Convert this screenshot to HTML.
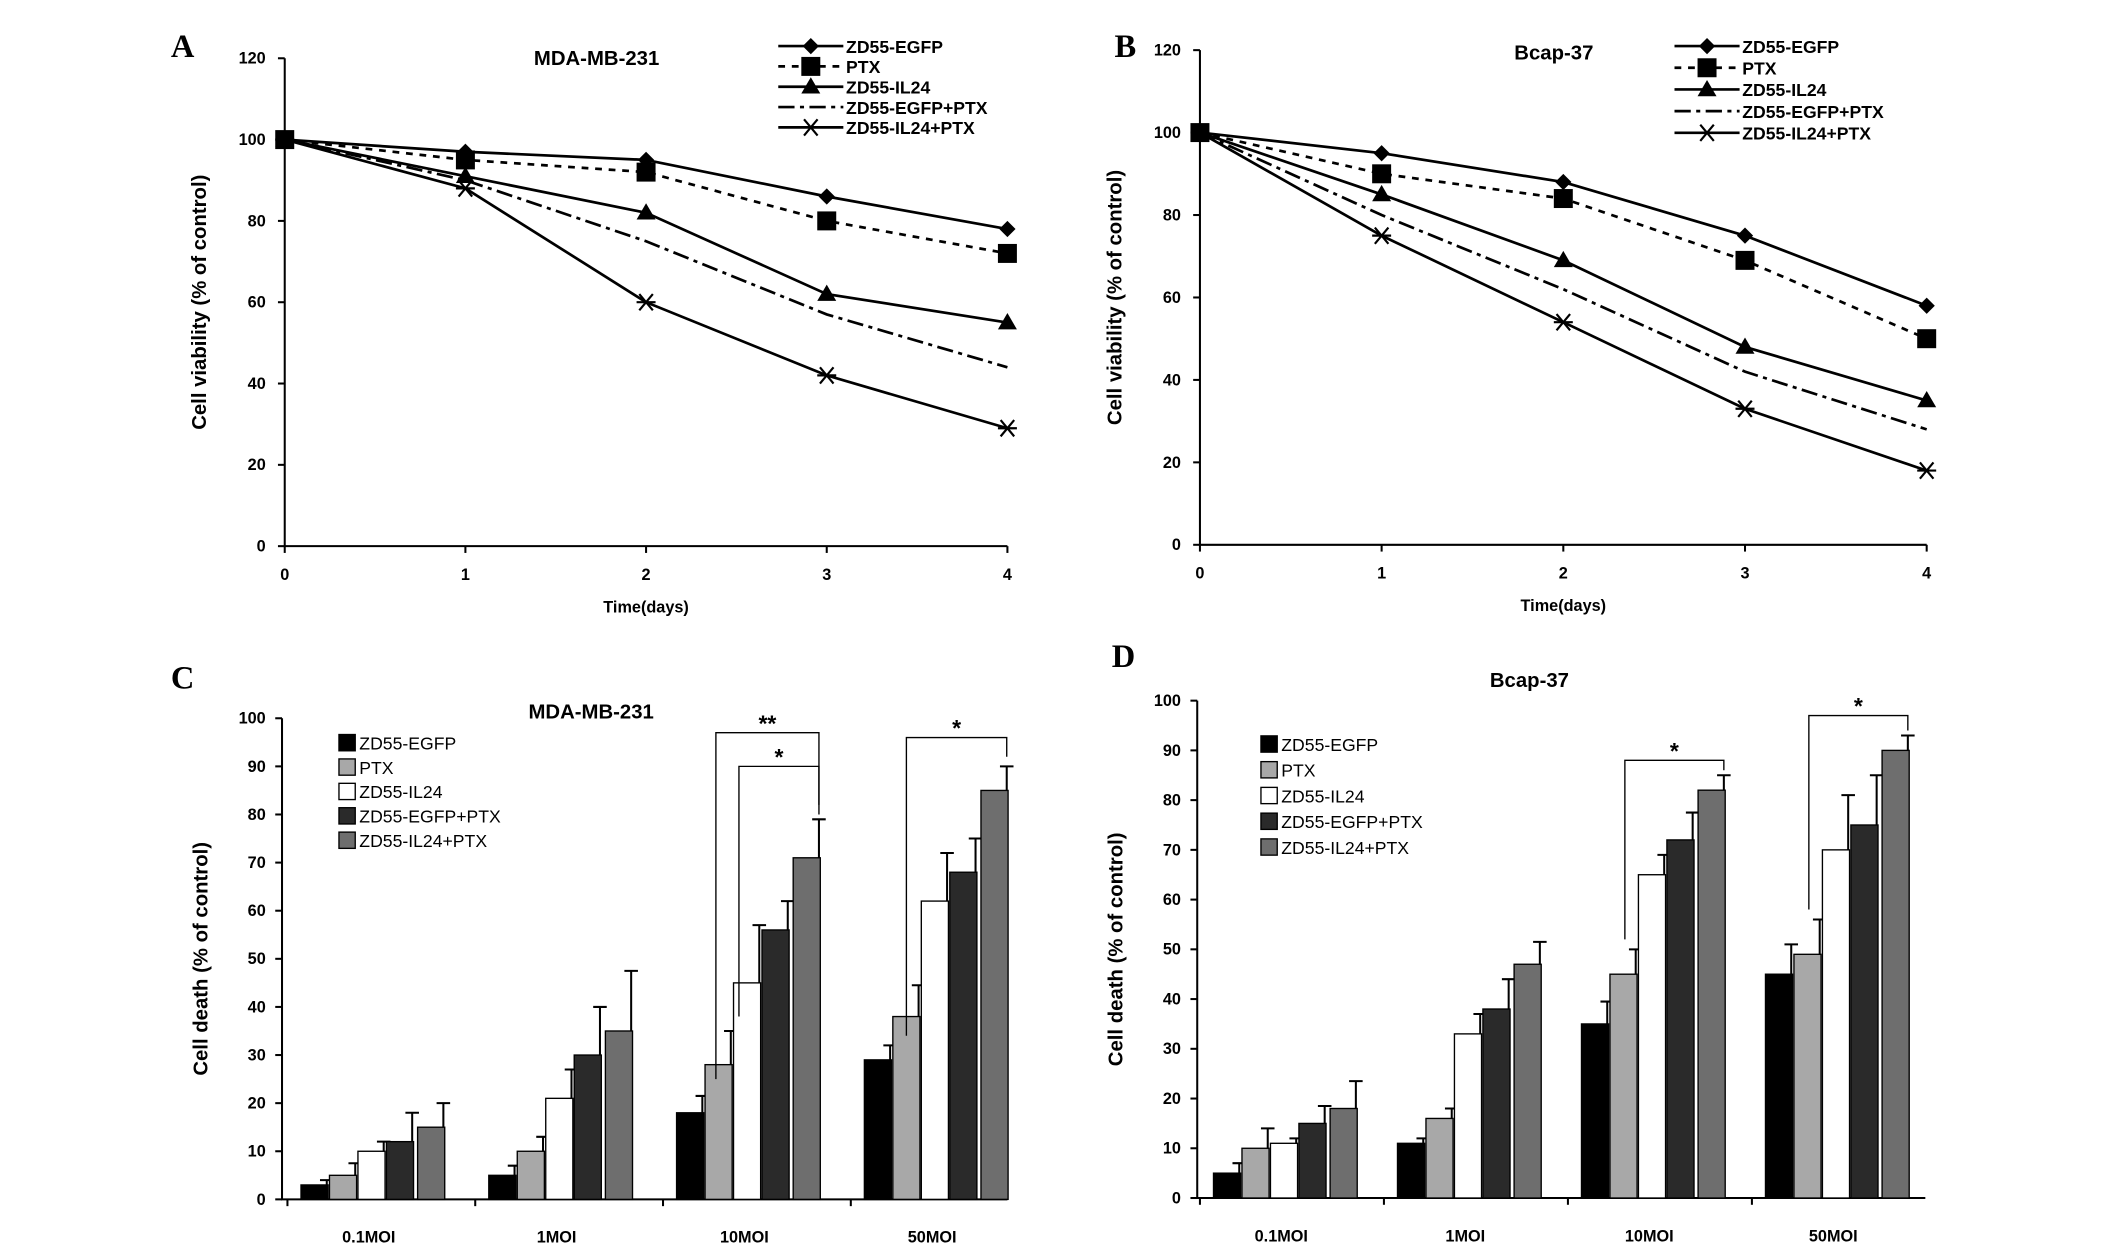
<!DOCTYPE html>
<html><head><meta charset="utf-8">
<style>
html,body{margin:0;padding:0;background:#fff;}
svg{display:block;font-family:"Liberation Sans",Arial,sans-serif;font-weight:bold;}
</style></head>
<body>
<svg id="fig" width="2126" height="1259" viewBox="0 0 1568 929" preserveAspectRatio="none" xmlns="http://www.w3.org/2000/svg">
<rect width="1568" height="929" fill="#fff"/>
</svg>
<script>
// ---- line chart data ----
const lineDays = [0,1,2,3,4];
const lineSeriesNames = ["ZD55-EGFP","PTX","ZD55-IL24","ZD55-EGFP+PTX","ZD55-IL24+PTX"];
const lineYTicks = [0,20,40,60,80,100,120];
const mdaEGFP = [100,97,95,86,78];
const mdaPTX = [100,95,92,80,72];
const mdaIL24 = [100,91,82,62,55];
const mdaEGFPPTX = [100,90,75,57,44];
const mdaIL24PTX = [100,88,60,42,29];
const bcapEGFP = [100,95,88,75,58];
const bcapPTX = [100,90,84,69,50];
const bcapIL24 = [100,85,69,48,35];
const bcapEGFPPTX = [100,80,62,42,28];
const bcapIL24PTX = [100,75,54,33,18];
// ---- bar chart data ----
const barCategories = ["0.1MOI","1MOI","10MOI","50MOI"];
const barYTicks = [0,10,20,30,40,50,60,70,80,90,100];
const mdaBarEGFP = [3,5,18,29];
const mdaBarPTX = [5,10,28,38];
const mdaBarIL24 = [10,21,45,62];
const mdaBarEGFPPTX = [12,30,56,68];
const mdaBarIL24PTX = [15,35,71,85];
const mdaErrEGFP = [1,2,3.5,3];
const mdaErrPTX = [2.5,3,7,6.5];
const mdaErrIL24 = [2,6,12,10];
const mdaErrEGFPPTX = [6,10,6,7];
const mdaErrIL24PTX = [5,12.5,8,5];
const bcapBarEGFP = [5,11,35,45];
const bcapBarPTX = [10,16,45,49];
const bcapBarIL24 = [11,33,65,70];
const bcapBarEGFPPTX = [15,38,72,75];
const bcapBarIL24PTX = [18,47,82,90];
const bcapErrEGFP = [2,1,4.5,6];
const bcapErrPTX = [4,2,5,7];
const bcapErrIL24 = [1,4,4,11];
const bcapErrEGFPPTX = [3.5,6,5.5,10];
const bcapErrIL24PTX = [5.5,4.5,3,3];

const NS="http://www.w3.org/2000/svg";
const svg=document.getElementById('fig');
function mk(tag,attrs,parent,text){const e=document.createElementNS(NS,tag);for(const k in attrs)e.setAttribute(k,attrs[k]);if(text!==undefined)e.textContent=text;(parent||svg).appendChild(e);return e;}

function marker(g,type,x,y){
  if(type===0){const p=mk('polygon',{points:`${x},${y-6} ${x+6},${y} ${x},${y+6} ${x-6},${y}`,fill:'#000'},g);}
  else if(type===1){const p=mk('rect',{x:x-7,y:y-7,width:14,height:14,fill:'#000'},g);}
  else if(type===2){const p=mk('polygon',{points:`${x},${y-7} ${x+7},${y+5} ${x-7},${y+5}`,fill:'#000'},g);}
  else if(type===4){const p=mk('path',{d:`M${x-7},${y}H${x+7}M${x-5},${y-6}L${x+5},${y+6}M${x-5},${y+6}L${x+5},${y-6}`,stroke:'#000','stroke-width':1.6,fill:'none'},g);}
}
const dashes=['none','5,5','none','12,4,3,4','none'];

function lineChart(o){
  const g=mk('g',{});
  const yS=v=>o.y0-(v/120)*(o.y0-o.y120);
  const xS=d=>o.x0+(d/4)*(o.x4-o.x0);
  const ax=mk('path',{d:`M${o.x0},${o.y120}V${o.y0}H${o.x4}`,stroke:'#000','stroke-width':1.5,fill:'none'},g);
  
  lineYTicks.forEach(t=>{const y=yS(t);mk('line',{x1:o.x0-5,x2:o.x0,y1:y,y2:y,stroke:'#000','stroke-width':1.5},g);
    const tx=mk('text',{x:o.x0-14,y:y+4,'text-anchor':'end','font-size':12},g,String(t));});
  lineDays.forEach(d=>{const x=xS(d);mk('line',{x1:x,x2:x,y1:o.y0,y2:o.y0+5,stroke:'#000','stroke-width':1.5},g);
    const tx=mk('text',{x:x,y:o.y0+25,'text-anchor':'middle','font-size':12},g,String(d));});
  const xt=mk('text',{x:(o.x0+o.x4)/2,y:o.y0+49,'text-anchor':'middle','font-size':12},g,'Time(days)');
  const yt=mk('text',{x:0,y:0,'text-anchor':'middle','font-size':15,transform:`translate(${o.x0-58},${(o.y0+o.y120)/2}) rotate(-90)`},g,'Cell viability (% of control)');
  const ti=mk('text',{x:o.titleX,y:o.titleY,'text-anchor':'middle','font-size':15},g,o.title);
  const pl=mk('text',{x:o.lx,y:o.ly,'font-size':24,'font-family':'Liberation Serif,serif'},g,o.letter);
  o.series.forEach((s,i)=>{
    const pts=s.map((v,d)=>`${xS(lineDays[d])},${yS(v)}`).join(' ');
    const pl=mk('polyline',{points:pts,fill:'none',stroke:'#000','stroke-width':2,'stroke-dasharray':dashes[i]},g);
    
    if(i!==3) s.forEach((v,d)=>marker(g,i,xS(lineDays[d]),yS(v)));
  });
  lineSeriesNames.forEach((n,i)=>{const y=o.legY+i*o.legStep;
    const le=mk('g',{},g);
    mk('line',{x1:o.legX,x2:o.legX+48,y1:y,y2:y,stroke:'#000','stroke-width':2,'stroke-dasharray':dashes[i]},le);
    if(i!==3)marker(le,i,o.legX+24,y);
    mk('text',{x:o.legX+50,y:y+5,'font-size':13},le,n);});
}
lineChart({name:'chart-a-mda-line',x0:210,x4:743,y0:403,y120:43,series:[mdaEGFP,mdaPTX,mdaIL24,mdaEGFPPTX,mdaIL24PTX],title:'MDA-MB-231',titleX:440,titleY:48,letter:'A',lx:126,ly:42,legX:574,legY:34,legStep:15});
lineChart({name:'chart-b-bcap-line',x0:885,x4:1421,y0:402,y120:37,series:[bcapEGFP,bcapPTX,bcapIL24,bcapEGFPPTX,bcapIL24PTX],title:'Bcap-37',titleX:1146,titleY:44,letter:'B',lx:822,ly:42,legX:1235,legY:34,legStep:16});

const barFills=['#000','#a8a8a8','#fff','#2a2a2a','#6e6e6e'];
function barChart(o){
  const g=mk('g',{});
  const yS=v=>o.y0-(v/100)*(o.y0-o.y100);
  const ax=mk('path',{d:`M${o.x0},${o.y100}V${o.y0}H${o.xEnd}`,stroke:'#000','stroke-width':1.5,fill:'none'},g);
  
  barYTicks.forEach(t=>{const y=yS(t);mk('line',{x1:o.x0-5,x2:o.x0,y1:y,y2:y,stroke:'#000','stroke-width':1.5},g);
    const tx=mk('text',{x:o.x0-12,y:y+4,'text-anchor':'end','font-size':12},g,String(t));});
  const yt=mk('text',{x:0,y:0,'text-anchor':'middle','font-size':15,transform:`translate(${o.x0-55},${(o.y0+o.y100)/2}) rotate(-90)`},g,'Cell death (% of control)');
  const ti=mk('text',{x:o.titleX,y:o.titleY,'text-anchor':'middle','font-size':15},g,o.title);
  const pl=mk('text',{x:o.lx,y:o.ly,'font-size':24,'font-family':'Liberation Serif,serif'},g,o.letter);
  const bw=21;
  const barX=(c,s)=>o.start+c*o.step+s*bw+(s===4?2:0);
  barCategories.forEach((c,ci)=>{
    const tx=mk('text',{x:o.start+ci*o.step+50,y:o.y0+32,'text-anchor':'middle','font-size':12},g,c);
    mk('line',{x1:o.start+ci*o.step-10,x2:o.start+ci*o.step-10,y1:o.y0,y2:o.y0+5,stroke:'#000','stroke-width':1.5},g);
  });
  o.series.forEach((s,si)=>s.forEach((v,ci)=>{
    const x=barX(ci,si),y=yS(v),e=o.errs[si][ci];
    const r=mk('rect',{x:x,y:y,width:bw-1,height:o.y0-y,fill:barFills[si],stroke:'#000','stroke-width':1},g);
    
    const eb=mk('path',{d:`M${x+bw-2},${y}V${yS(v+e)}M${x+bw-7},${yS(v+e)}H${x+bw+3}`,stroke:'#000','stroke-width':1.5,fill:'none'},g);
    
  }));
  o.brackets.forEach(b=>{
    const xa=barX(b.c,b.from)+bw-2+b.dx,xb=barX(b.c,4)+bw-2;
    const top=yS(b.lvl);
    const br=mk('path',{d:`M${xa},${yS(b.startV)}V${top}H${xb}V${yS(b.endV)}`,stroke:'#000','stroke-width':1,fill:'none'},g);
    
    const st=mk('text',{x:(xa+xb)/2,y:top-1,'text-anchor':'middle','font-size':17},g,b.mark);
  });
  lineSeriesNames.forEach((n,i)=>{const y=o.legY+i*o.legStep;
    const le=mk('g',{},g);
    mk('rect',{x:o.legX,y:y-6,width:12,height:12,fill:barFills[i],stroke:'#000','stroke-width':1},le);
    mk('text',{x:o.legX+15,y:y+5,'font-size':13,'font-weight':'normal'},le,n);});
}
barChart({name:'chart-c-mda-bar',x0:208,xEnd:743,y0:885,y100:530,start:222,step:138.5,series:[mdaBarEGFP,mdaBarPTX,mdaBarIL24,mdaBarEGFPPTX,mdaBarIL24PTX],errs:[mdaErrEGFP,mdaErrPTX,mdaErrIL24,mdaErrEGFPPTX,mdaErrIL24PTX],title:'MDA-MB-231',titleX:436,titleY:530,letter:'C',lx:126,ly:508,legX:250,legY:548,legStep:18,
 brackets:[{c:2,from:0,dx:10,lvl:97,startV:25,endV:82,mark:'**'},{c:2,from:1,dx:6,lvl:90,startV:38,endV:80,mark:'*'},{c:3,from:0,dx:12,lvl:96,startV:34,endV:92,mark:'*'}]});
barChart({name:'chart-d-bcap-bar',x0:883,xEnd:1420,y0:884,y100:517,start:895,step:135.7,series:[bcapBarEGFP,bcapBarPTX,bcapBarIL24,bcapBarEGFPPTX,bcapBarIL24PTX],errs:[bcapErrEGFP,bcapErrPTX,bcapErrIL24,bcapErrEGFPPTX,bcapErrIL24PTX],title:'Bcap-37',titleX:1128,titleY:507,letter:'D',lx:820,ly:492,legX:930,legY:549,legStep:19,
 brackets:[{c:2,from:1,dx:-8,lvl:88,startV:52,endV:86,mark:'*'},{c:3,from:1,dx:-8,lvl:97,startV:58,endV:94,mark:'*'}]});
</script>
</body></html>
